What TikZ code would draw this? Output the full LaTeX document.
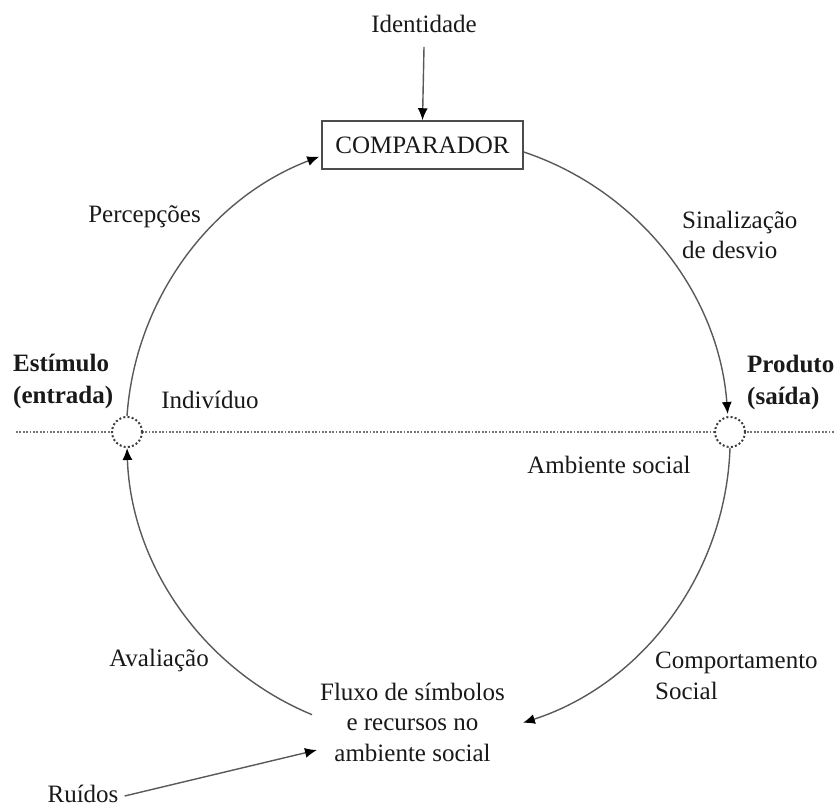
\documentclass[tikz,border=0pt]{standalone}
\usepackage{fontspec}
\setmainfont{Liberation Serif}
\usetikzlibrary{arrows.meta,calc}
\begin{document}
\begin{tikzpicture}[x=1pt,y=1pt,
  every node/.style={font=\fontsize{25}{30.5}\selectfont, text=black!90, inner sep=2pt},
  lbl/.style={align=center},
  lblw/.style={align=left, anchor=west},
  arc line/.style={draw=black!65, line width=1.4pt},
  arr/.style={arc line, -{Latex[length=12pt,width=10pt,black]}},
  rarr/.style={arc line, {Latex[length=12pt,width=10pt,black]}-},
  dotc/.style={circle, draw=black!75, line width=2pt, dash pattern=on 2pt off 2.2pt, minimum size=30pt, inner sep=0pt, fill=white},
  compbox/.style={draw=black!70, line width=1.5pt, minimum width=201pt, minimum height=48pt, inner sep=0pt}
]
\useasboundingbox (0,0) rectangle (834,811);
% horizontal dotted divider
\coordinate (dl) at (16,379);
\coordinate (dr) at (834,379);
\draw[black!55, line width=1.8pt, dash pattern=on 1.8pt off 1.6pt] (dl) -- (dr);
% nodes
\node[compbox] (box) at (422.5,666) {COMPARADOR};
\node[lbl] (id) at (424,787) {Identidade};
\node[dotc] (lc) at (127,379) {};
\node[dotc] (rc) at (730,379) {};
\node[lbl] (perc) at (144.5,594) {Percepções};
\node[lblw] (sinal) at (680,576) {Sinalização\\de desvio};
\node[lblw, font=\fontsize{25}{32}\selectfont\bfseries] (estim) at (11,430) {Estímulo\\(entrada)};
\node[lblw, font=\fontsize{25}{32}\selectfont\bfseries] (prod) at (745,429) {Produto\\(saída)};
\node[lbl] (indiv) at (210,411) {Indivíduo};
\node[lbl] (amb) at (609,346) {Ambiente social};
\node[lbl] (aval) at (159,151) {Avaliação};
\node[lblw] (comp) at (653,135) {Comportamento\\Social};
\node[lbl] (fluxo) at (412.5,89) {Fluxo de símbolos\\e recursos no\\ambiente social};
\node[lbl] (ruidos) at (83,17) {Ruídos};
\coordinate (rtip) at (317,61);
% connectors
\draw[arr] (id.south) ++(0,-12) -- (box.north);
\draw[arr] (lc.north) arc[start angle=176, end angle=110.9, radius=300];
\draw[arr] ([yshift=-7pt]box.east) arc[start angle=71.5, end angle=4.3, radius=300];
\draw[arr] (rc.south) arc[start angle=-2, end angle=-72, radius=300];
\draw[rarr] (lc.south) arc[start angle=-178, end angle=-112.5, radius=300];
\draw[arr] ([xshift=4pt,yshift=-2pt]ruidos.east) -- (rtip);
\end{tikzpicture}
\end{document}
